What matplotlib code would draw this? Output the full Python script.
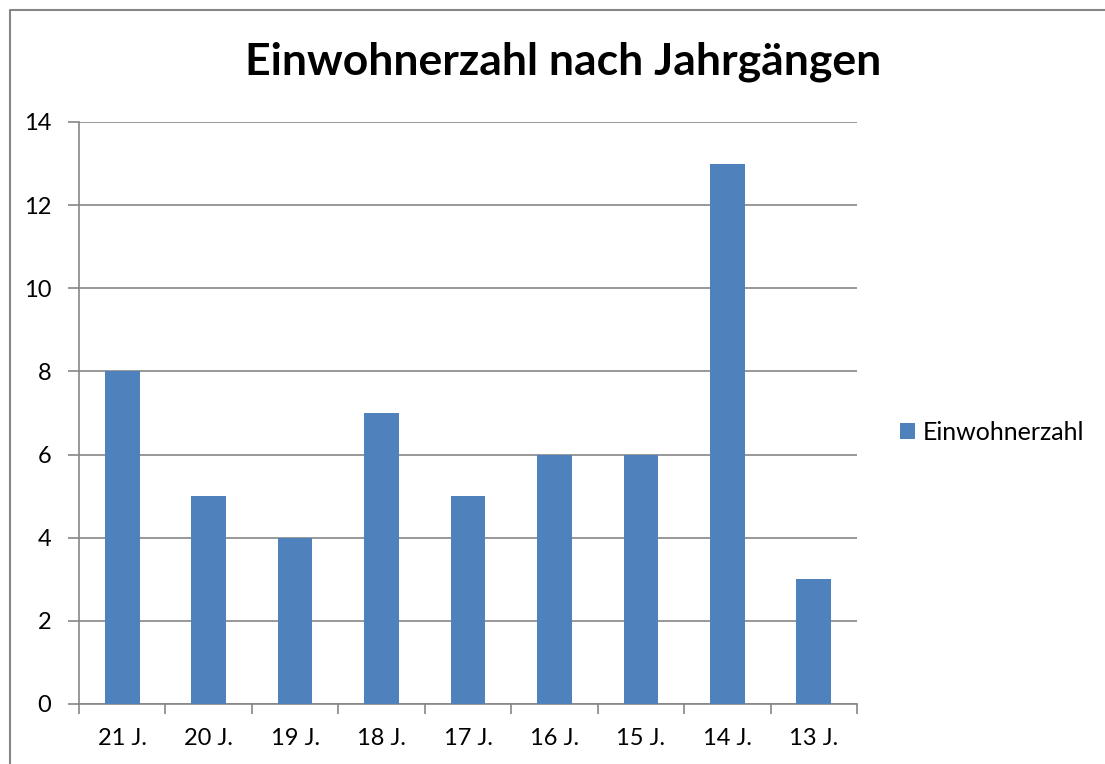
import numpy as np
import matplotlib
matplotlib.use('Agg')
import matplotlib.pyplot as plt
from matplotlib.lines import Line2D

# Daten
categories = ['21 J.', '20 J.', '19 J.', '18 J.', '17 J.', '16 J.', '15 J.', '14 J.', '13 J.']
einwohner = [8, 5, 4, 7, 5, 6, 6, 13, 3]
y_ticks = [0, 2, 4, 6, 8, 10, 12, 14]

BAR_COLOR = '#4F81BD'
GRID_COLOR = '#868686'

plt.rcParams['font.family'] = ['Lato', 'DejaVu Sans']

W, H = 1105, 764
fig = plt.figure(figsize=(W / 100, H / 100), dpi=100)

# Rahmen um das Diagramm: nur oben und links sichtbar
fig.lines.append(Line2D([10 / W, 10 / W, 1.0], [0.0, (H - 10) / H, (H - 10) / H],
                        transform=fig.transFigure, color=GRID_COLOR, lw=1.5))

ax = fig.add_axes([79 / W, (H - 704) / H, (857 - 79) / W, (704 - 122) / H])
x = np.arange(len(categories))
bars = ax.bar(x, einwohner, width=0.4, color=BAR_COLOR, zorder=3, label='Einwohnerzahl')

ax.set_xlim(-0.5, len(categories) - 0.5)
ax.set_ylim(0, 14)
ax.set_yticks(y_ticks)
ax.set_yticklabels([str(v) for v in y_ticks], fontsize=17)
ax.set_xticks(x)
ax.set_xticklabels(categories, fontsize=17)
ax.set_xticks(np.arange(len(categories) + 1) - 0.5, minor=True)
ax.tick_params(axis='x', which='major', length=0, pad=17)
ax.tick_params(axis='x', which='minor', length=7, color=GRID_COLOR, width=1.2)
ax.tick_params(axis='y', length=8, color=GRID_COLOR, width=1.2, pad=12)

ax.grid(axis='y', color=GRID_COLOR, lw=1.2, zorder=0)
for s in ['top', 'right']:
    ax.spines[s].set_visible(False)
for s in ['left', 'bottom']:
    ax.spines[s].set_color(GRID_COLOR)
    ax.spines[s].set_linewidth(1.2)

fig.text(563 / W, (H - 62) / H, 'Einwohnerzahl nach Jahrgängen', ha='center', va='center',
         fontsize=32, fontweight='bold')

leg = fig.legend(handles=[bars], labels=['Einwohnerzahl'], loc='center left',
                 bbox_to_anchor=(900 / W, (H - 432) / H), frameon=False,
                 borderpad=0, borderaxespad=0,
                 fontsize=18, handlelength=0.6, handleheight=0.6, handletextpad=0.3)

fig.savefig('out.png', dpi=100)
